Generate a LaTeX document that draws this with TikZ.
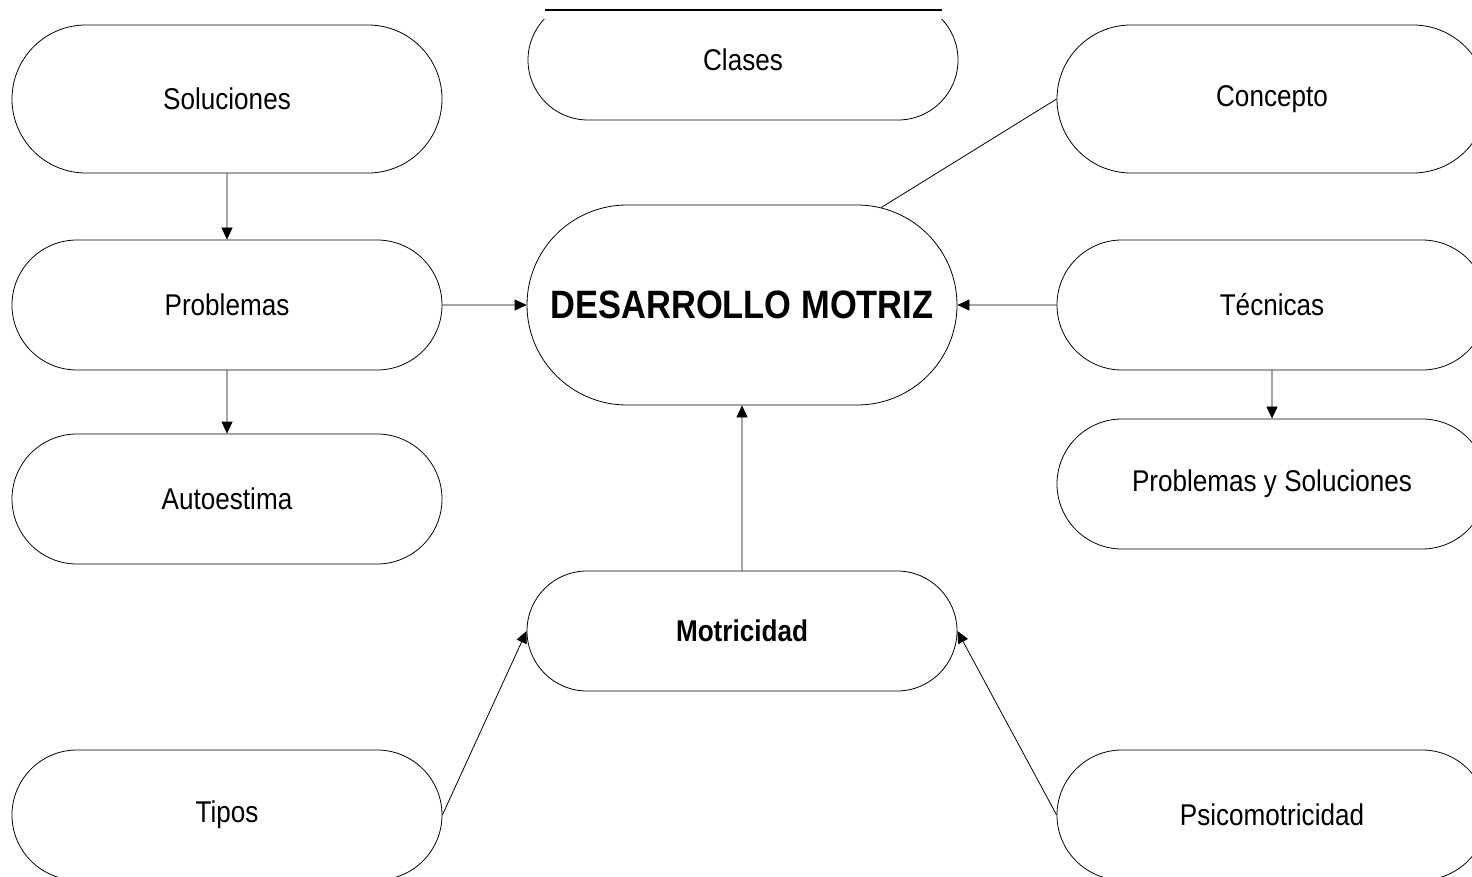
\documentclass[tikz,border=0pt]{standalone}
\usepackage{fontspec}
\setmainfont{Liberation Sans}[FakeStretch=0.87]
\usetikzlibrary{shapes.misc,arrows.meta}
\begin{document}
\begin{tikzpicture}[x=0.5pt,y=-0.5pt,
  txt/.style={font=\fontsize{15}{17}\selectfont},
  box/.style={draw,rounded rectangle,minimum width=215pt,minimum height=65pt,inner sep=0pt,txt},
  arr/.style={-{Triangle[length=6pt,width=5.5pt]}}]
 \useasboundingbox (0,0) rectangle (1472,877);
 % left column
 \node[box,minimum height=74pt] (sol) at (227,99) {Soluciones};
 \node[box] (prob) at (227,305) {Problemas};
 \node[box] (auto) at (227,499) {Autoestima};
 \node[box] (tipos) at (227,815) {Tipos};
 % middle column
 \begin{scope}
  \clip (500,20) rectangle (1000,140);
  \node[box,minimum height=60pt] (clases) at (743,60) {Clases};
 \end{scope}
 \draw[line width=1pt] (545,10) -- (942,10);
 \node[box,minimum height=100pt,font=\fontsize{19.8}{22}\selectfont\bfseries] (dm) at (742,305) {DESARROLLO MOTRIZ};
 \node[box,minimum height=60pt,font=\fontsize{15}{17}\selectfont\bfseries] (mot) at (742,631) {Motricidad};
 % right column
 \node[box,minimum height=74pt] (conc) at (1272,99) {Concepto};
 \node[box] (tec) at (1272,305) {Técnicas};
 \node[box] (pys) at (1272,484) {Problemas y Soluciones};
 \node[box] (psico) at (1272,815) {Psicomotricidad};
 % connectors
 \draw[arr] (sol) -- (prob);
 \draw[arr] (prob) -- (auto);
 \draw[arr] (prob) -- (dm);
 \draw[arr] (tec) -- (dm);
 \draw[arr] (tec) -- (pys);
 \draw[arr] (mot) -- (dm);
 \draw[arr] (tipos.east) -- (mot.west);
 \draw[arr] (psico.west) -- (mot.east);
 \draw (dm.35) -- (conc.west);
\end{tikzpicture}
\end{document}
